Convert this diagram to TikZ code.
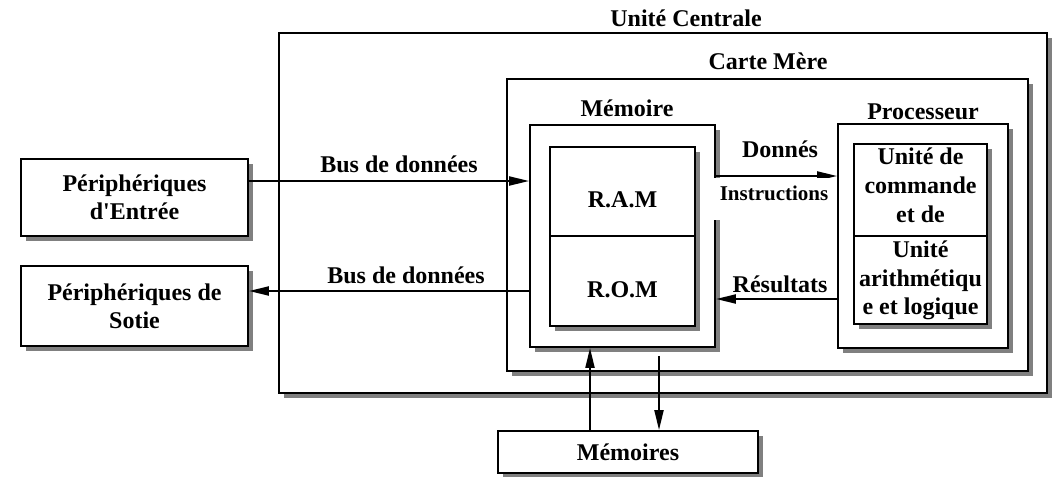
\documentclass[tikz,border=0pt]{standalone}
\usepackage{fontspec}
\setmainfont{Liberation Serif}[Ligatures=TeXOff]
\usetikzlibrary{arrows.meta,shadows,calc}
\tikzset{
  box/.style={draw, line width=1.8pt, fill=white, inner sep=0pt,
    drop shadow={shadow xshift=5pt, shadow yshift=-5pt, fill=black!50, opacity=1}},
  txt/.style={font=\bfseries\fontsize{24}{28}\selectfont, inner sep=0pt},
  btxt/.style={txt, anchor=base},
  arr/.style={line width=2pt, -{Triangle[length=20pt,width=9pt]}}
}
\begin{document}
\begin{tikzpicture}[x=1pt,y=-1pt]
\useasboundingbox (0,0) rectangle (1056,476);
% boxes
\node[box, minimum width=768pt, minimum height=360pt] (uc) at (663,213) {};
\node[box, minimum width=521pt, minimum height=292pt] (cm) at (767.5,225) {};
\node[box, minimum width=185pt, minimum height=222pt] (mem) at (622.5,236) {};
\node[box, minimum width=145pt, minimum height=89pt] (ram) at (622.5,191.5) {};
\node[box, minimum width=145pt, minimum height=90pt] (rom) at (622.5,281) {};
\node[box, minimum width=170pt, minimum height=224pt] (proc) at (923,236) {};
\node[box, minimum width=133pt, minimum height=92pt] (cu) at (920.5,190) {};
\node[box, minimum width=133pt, minimum height=88pt] (alu) at (920.5,280) {};
\node[box, txt, align=center, minimum width=227pt, minimum height=77pt] (in) at (134.5,197.5) {Périphériques\\d'Entrée};
\node[box, txt, align=center, minimum width=227pt, minimum height=80pt] (out) at (134.5,306) {Périphériques de\\Sotie};
\node[box, txt, minimum width=260pt, minimum height=42pt] (memoires) at (628,452) {Mémoires};
% texts in boxes
\node[btxt] (tram) at (622.5,207) {R.A.M};
\node[btxt] (trom) at (622.5,297) {R.O.M};
\node[txt, align=center, font=\bfseries\fontsize{24}{29}\selectfont] (tcu) at (920.5,185.5) {Unité de\\commande\\et de};
\node[txt, align=center, font=\bfseries\fontsize{24}{28.5}\selectfont] (talu) at (920.5,280.5) {Unité\\arithmétiqu\\e et logique};
% titles
\node[btxt] (tuc) at (686,27) {Unité Centrale};
\node[btxt] (tcm) at (768,70) {Carte Mère};
\node[btxt] (tmem) at (627,117) {Mémoire};
\node[btxt] (tproc) at (923,120) {Processeur};
% connectors
\coordinate (a1) at ([yshift=16.5pt]in.east);
\draw[arr] (a1) -- (a1 -| mem.west);
\coordinate (b1) at ([yshift=-55pt]mem.west);
\draw[arr] (b1) -- (b1 -| out.east);
\coordinate (c1) at ([yshift=60pt]mem.east);
\draw[arr] (c1) -- (c1 -| proc.west);
\coordinate (r1) at ([yshift=-63pt]proc.west);
\draw[arr] (r1) -- (r1 -| mem.east);
\coordinate (d1) at ([xshift=-38pt]memoires.north);
\draw[arr] (d1) -- (d1 |- mem.south);
\coordinate (e1) at ([xshift=36.5pt,yshift=-8pt]mem.south);
\draw[arr] (e1) -- (e1 |- memoires.north);
% connector labels
\node[btxt] (tbus1) at (399,172) {Bus de données};
\node[btxt] (tbus2) at (406,283) {Bus de données};
\node[btxt] (tdon) at (780,157) {Donnés};
\node[anchor=base, font=\bfseries\fontsize{21}{24}\selectfont, fill=white, inner xsep=7pt, inner ysep=0pt, text height=22pt, text depth=20pt] (tins) at (774,200) {Instructions};
\node[btxt] (tres) at (780,292) {Résultats};
\end{tikzpicture}
\end{document}
